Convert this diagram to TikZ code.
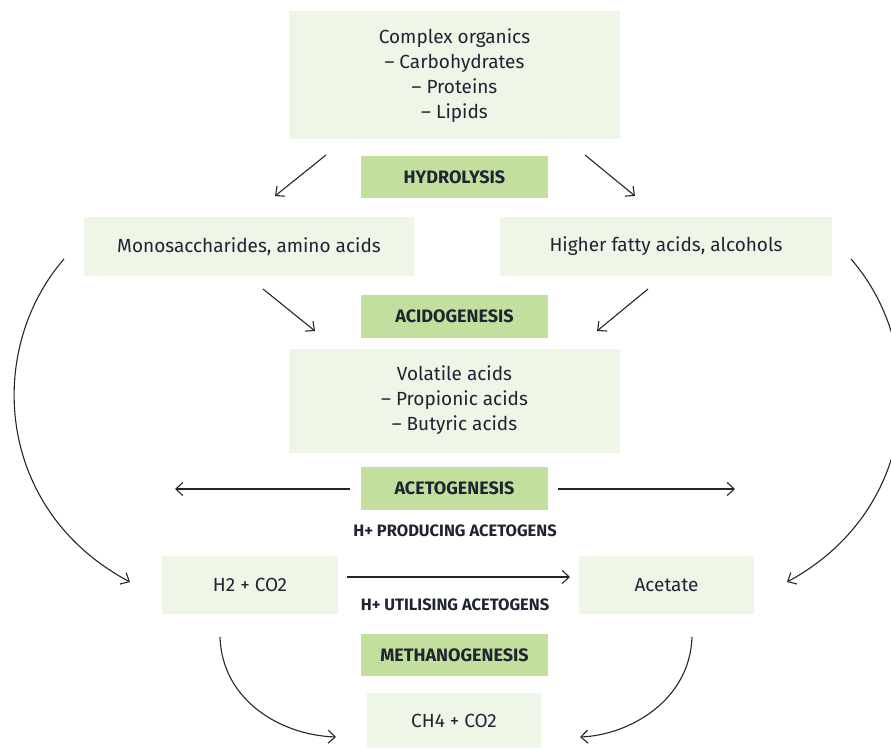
\documentclass[tikz,border=0pt]{standalone}
\usepackage{fontspec}
\setmainfont{Fira Sans}
\usetikzlibrary{arrows.meta}
\definecolor{boxc}{HTML}{EEF6E8}
\definecolor{labc}{HTML}{C3DF9E}
\definecolor{txtc}{HTML}{1F2433}
\tikzset{
  boxnode/.style={fill=boxc, inner sep=0pt, text=txtc, align=center, font=\fontsize{19}{25}\selectfont},
  stagenode/.style={fill=labc, inner sep=0pt, text=txtc, minimum width=187pt, font=\fontsize{18}{20}\selectfont\bfseries},
  smalllab/.style={inner sep=0pt, text=txtc, font=\fontsize{16.5}{18}\selectfont\bfseries},
  arr/.style={draw=black!85, line width=1.1pt, -{Straight Barb[length=7pt,width=13pt]}},
}
\begin{document}
\begin{tikzpicture}[x=1pt,y=-1pt]
\useasboundingbox (0,0) rectangle (891,749);
% boxes
\node[boxnode, minimum width=331pt, minimum height=128pt] (complex) at (454.5,75.5) {Complex organics\\– Carbohydrates\\– Proteins\\– Lipids};
\node[stagenode, minimum height=42pt] (hydro) at (454.5,177) {HYDROLYSIS};
\node[boxnode, minimum width=330pt, minimum height=59pt] (mono) at (249,246.5) {Monosaccharides, amino acids};
\node[boxnode, minimum width=332pt, minimum height=59pt] (fatty) at (666,246.5) {Higher fatty acids, alcohols};
\node[stagenode, minimum height=43pt] (acido) at (454.5,316.5) {ACIDOGENESIS};
\node[boxnode, minimum width=331pt, minimum height=104pt] (volatile) at (454.5,400.5) {Volatile acids\\– Propionic acids\\– Butyric acids};
\node[stagenode, minimum height=43pt] (aceto) at (454.5,488.5) {ACETOGENESIS};
\node[smalllab] (hprod) at (455,531) {H+ PRODUCING ACETOGENS};
\node[boxnode, minimum width=176pt, minimum height=58pt] (h2) at (250,585) {H2 + CO2};
\node[boxnode, minimum width=175pt, minimum height=58pt] (acetate) at (666.5,585) {Acetate};
\node[smalllab] (hutil) at (455,605) {H+ UTILISING ACETOGENS};
\node[stagenode, minimum height=42pt] (methano) at (454.5,655) {METHANOGENESIS};
\node[boxnode, minimum width=174pt, minimum height=55pt] (ch4) at (454,720.5) {CH4 + CO2};
% arrow end points
\coordinate (a1s) at (326,155); \coordinate (a1e) at (275,196);
\coordinate (a2s) at (585,155); \coordinate (a2e) at (635,196);
\coordinate (a3s) at (263,289); \coordinate (a3e) at (315,331);
\coordinate (a4s) at (648,289); \coordinate (a4e) at (597,331);
\coordinate (a5s) at (350,489); \coordinate (a5e) at (175,489);
\coordinate (a6s) at (558,489); \coordinate (a6e) at (735,489);
\coordinate (a7s) at (347,577); \coordinate (a7e) at (570,577);
\coordinate (c1s) at (64,259); \coordinate (c1e) at (130,582);
\coordinate (c2s) at (851,259); \coordinate (c2e) at (787,582);
\coordinate (c3s) at (220,637); \coordinate (c3e) at (336,737);
\coordinate (c4s) at (692,637); \coordinate (c4e) at (580,737);
% straight arrows
\draw[arr] (a1s) -- (a1e);
\draw[arr] (a2s) -- (a2e);
\draw[arr] (a3s) -- (a3e);
\draw[arr] (a4s) -- (a4e);
\draw[arr] (a5s) -- (a5e);
\draw[arr] (a6s) -- (a6e);
\draw[arr] (a7s) -- (a7e);
% curved arrows
\draw[arr] (c1s) .. controls (-15,350) and (-5,510) .. (c1e);
\draw[arr] (c2s) .. controls (930,350) and (920,510) .. (c2e);
\draw[arr] (c3s) .. controls (222,700) and (280,735) .. (c3e);
\draw[arr] (c4s) .. controls (690,700) and (630,735) .. (c4e);
\end{tikzpicture}
\end{document}
